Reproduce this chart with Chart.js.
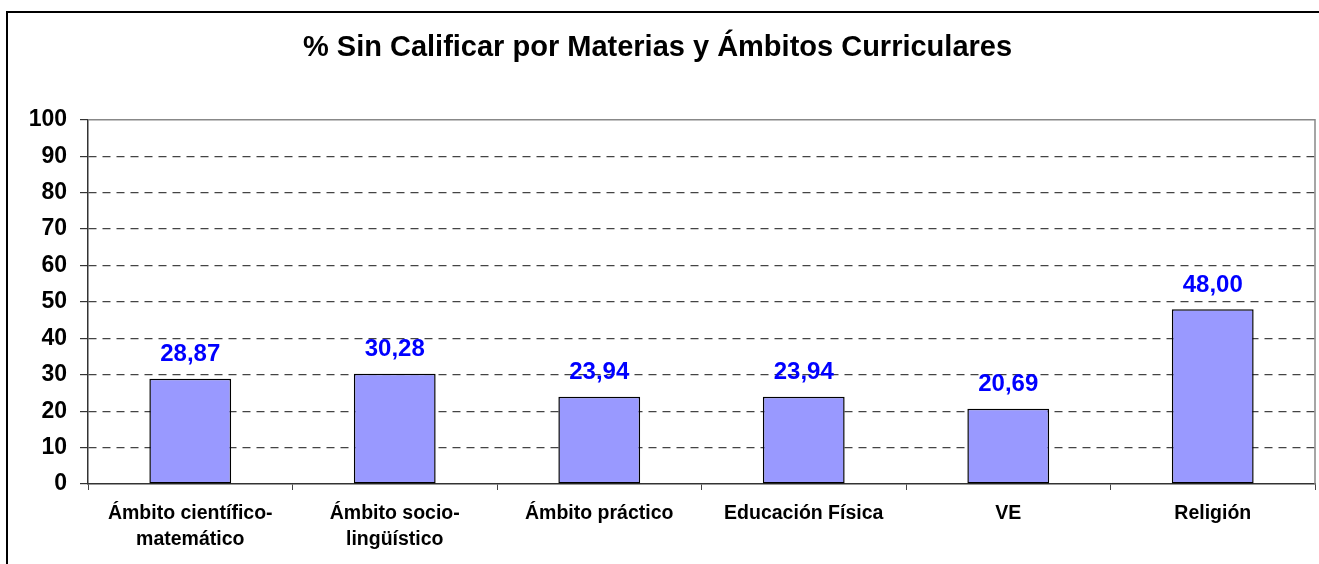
<!DOCTYPE html>
<html lang="es">
<head>
  <meta charset="utf-8" />
  <title>% Sin Calificar por Materias y Ámbitos Curriculares</title>
  <style>
html, body { margin: 0; padding: 0; background: #fff; }
#chartContainer {
  width: 1319px;
  height: 564px;
}
  </style>
</head>
<body>
  <div id="chartContainer">
    <canvas id="myChart"></canvas>
  </div>
  <script src="https://cdn.jsdelivr.net/npm/chart.js"></script>
  <script>

// materias (etiquetas de dos líneas donde hace falta)
const materias = [
  ['Ámbito científico-', 'matemático'],
  ['Ámbito socio-', 'lingüístico'],
  'Ámbito práctico',
  'Educación Física',
  'VE',
  'Religión'
];
// % sin calificar
const sinCalificar = [28.87, 30.28, 23.94, 23.94, 20.69, 48.00];
// eje Y
const yMin = 0;
const yMax = 100;
const yPaso = 10;

const fuente = '"Liberation Sans", Arial, sans-serif';

// marco exterior del gráfico (solo se ve el lado izquierdo y el superior)
const marcoExterior = {
  id: 'marcoExterior',
  beforeDraw(chart) {
    const ctx = chart.ctx;
    ctx.save();
    ctx.strokeStyle = '#000';
    ctx.lineWidth = 2;
    ctx.beginPath();
    ctx.moveTo(7, chart.height);
    ctx.lineTo(7, 12);
    ctx.lineTo(chart.width, 12);
    ctx.stroke();
    ctx.restore();
  }
};

// borde gris superior y derecho del área de trazado
const bordeArea = {
  id: 'bordeArea',
  beforeDatasetsDraw(chart) {
    const a = chart.chartArea;
    const ctx = chart.ctx;
    ctx.save();
    ctx.strokeStyle = '#888';
    ctx.lineWidth = 1.5;
    ctx.beginPath();
    ctx.moveTo(a.left, a.top);
    ctx.lineTo(a.right, a.top);
    ctx.lineTo(a.right, a.bottom);
    ctx.stroke();
    ctx.restore();
  }
};

// valores encima de cada barra, con coma decimal
const etiquetasValor = {
  id: 'etiquetasValor',
  afterDatasetsDraw(chart) {
    const ctx = chart.ctx;
    const meta = chart.getDatasetMeta(0);
    ctx.save();
    ctx.font = 'bold 24px ' + fuente;
    ctx.fillStyle = '#0000FF';
    ctx.textAlign = 'center';
    ctx.textBaseline = 'middle';
    meta.data.forEach((bar, i) => {
      const txt = sinCalificar[i].toFixed(2).replace('.', ',');
      ctx.fillText(txt, bar.x, bar.y - 24);
    });
    ctx.restore();
  }
};

const ctx = document.getElementById('myChart');
const chart = new Chart(ctx, {
  type: 'bar',
  data: {
    labels: materias,
    datasets: [{
      data: sinCalificar,
      backgroundColor: '#9999FF',
      borderColor: '#000',
      borderWidth: 1.5,
      borderSkipped: false,
      barPercentage: 0.4,
      categoryPercentage: 1
    }]
  },
  options: {
    responsive: true,
    maintainAspectRatio: false,
    animation: false,
    layout: {
      padding: { left: 0, right: 4, top: 0, bottom: 0 }
    },
    plugins: {
      legend: { display: false },
      tooltip: { enabled: false },
      title: {
        display: true,
        text: '% Sin Calificar por Materias y Ámbitos Curriculares',
        color: '#000',
        font: { family: fuente, size: 29, weight: 'bold' },
        padding: { top: 31, bottom: 54 }
      }
    },
    scales: {
      x: {
        offset: true,
        grid: {
          offset: true,
          drawOnChartArea: false,
          drawTicks: true,
          tickLength: 6,
          color: '#444'
        },
        border: { color: '#333', width: 1.5 },
        ticks: {
          color: '#000',
          padding: 11,
          maxRotation: 0,
          autoSkip: false,
          font: { family: fuente, size: 19.5, weight: 'bold', lineHeight: 1.33 }
        },
        afterFit(scale) { scale.height = 80; }
      },
      y: {
        min: yMin,
        max: yMax,
        grid: {
          color: (c) => (c.tick && (c.tick.value === yMin || c.tick.value === yMax)) ? 'rgba(0,0,0,0)' : '#444',
          tickColor: '#333',
          tickLength: 8,
          tickBorderDash: [],
          lineWidth: 1.2
        },
        border: { color: '#333', width: 1.5, dash: [8, 6] },
        ticks: {
          stepSize: yPaso,
          color: '#000',
          padding: 13,
          font: { family: fuente, size: 23, weight: 'bold' }
        },
        afterFit(scale) { scale.width = 88; }
      }
    }
  },
  plugins: [marcoExterior, bordeArea, etiquetasValor]
});

  </script>
</body>
</html>
